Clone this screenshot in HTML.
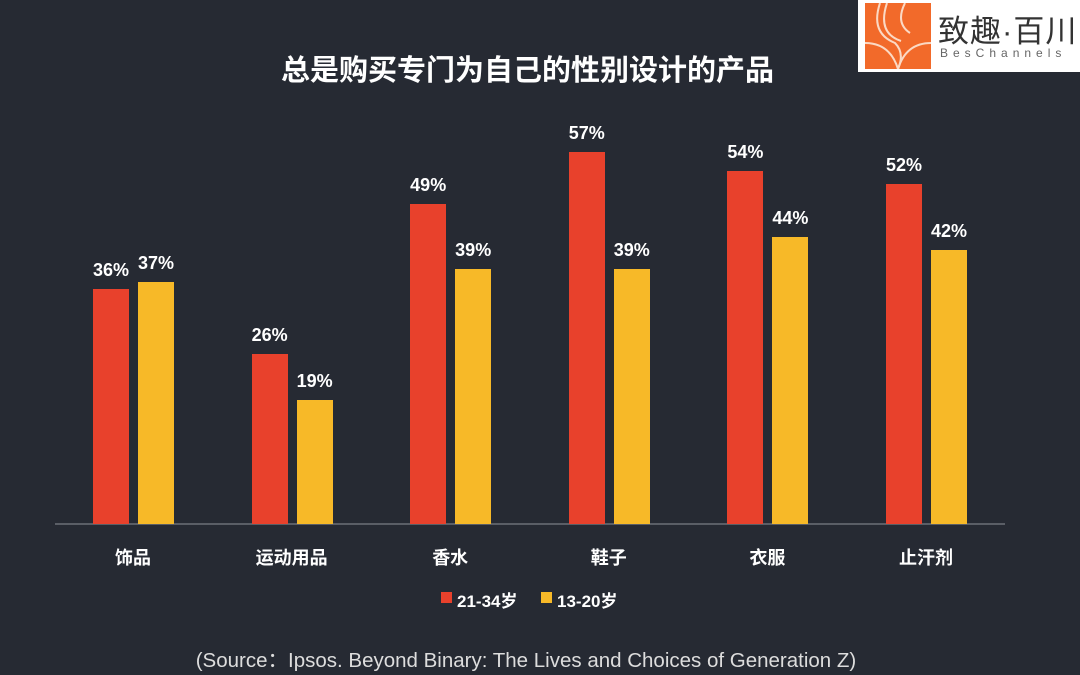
<!DOCTYPE html><html><head><meta charset="utf-8"><style>
body{margin:0;width:1080px;height:675px;background:#262a33;position:relative;overflow:hidden;font-family:"Liberation Sans","Noto Sans CJK SC",sans-serif;color:#fff}
.a{position:absolute}
.t{font-weight:bold;font-size:18px;text-align:center;width:60px;margin-left:-12px}
.l{font-weight:bold;font-size:18px;text-align:center;width:160px;top:544px}
</style></head><body>
<div class="a" style="left:0;width:1055px;top:47px;text-align:center;font-size:29px;font-weight:bold">总是购买专门为自己的性别设计的产品</div>
<div class="a" style="left:858px;top:0;width:222px;height:72px;background:#fff"></div>
<svg class="a" style="left:865px;top:3px" width="66" height="66"><rect width="66" height="66" fill="#f26a2a"/><g fill="none" stroke="#fbd9c4" stroke-width="2"><path d="M15 0 Q5 30 30 40 Q40 50 33 66"/><path d="M22 0 Q12 30 36 38"/><path d="M0 40 Q25 40 33 66"/><path d="M66 40 Q41 40 33 66"/><path d="M40 0 Q30 20 45 30"/></g></svg>
<div class="a" style="left:938px;top:6px;font-size:31px;color:#333;letter-spacing:1px">致趣·百川</div>
<div class="a" style="left:940px;top:46px;font-size:12px;color:#666;letter-spacing:5px">BesChannels</div>
<div class="a" style="left:55px;top:523px;width:950px;height:2px;background:#5a5e66"></div>
<div id="c"></div>
<div class="a" style="left:441px;top:592px;width:11px;height:11px;background:#e8412c"></div>
<div class="a" style="left:457px;top:587px;font-size:17px;font-weight:bold">21-34岁</div>
<div class="a" style="left:541px;top:592px;width:11px;height:11px;background:#f7b928"></div>
<div class="a" style="left:557px;top:587px;font-size:17px;font-weight:bold">13-20岁</div>
<div class="a" style="left:0;width:1052px;top:643px;text-align:center;font-size:20.5px;color:#ddd">(Source：Ipsos. Beyond Binary: The Lives and Choices of Generation Z)</div>
<script>
var d=[["饰品",36,37],["运动用品",26,19],["香水",49,39],["鞋子",57,39],["衣服",54,44],["止汗剂",52,42]],h="";
d.forEach(function(g,i){var x=93+i*158.6;
[[g[1],"#e8412c",x],[g[2],"#f7b928",x+45]].forEach(function(b){var ht=b[0]*6.53,top=524-ht;
h+='<div class="a" style="left:'+b[2]+'px;top:'+top+'px;width:36px;height:'+ht+'px;background:'+b[1]+'"></div>';
h+='<div class="a t" style="left:'+b[2]+'px;top:'+(top-29)+'px">'+b[0]+'%</div>';});
h+='<div class="a l" style="left:'+(x+40-80)+'px">'+g[0]+'</div>';});
document.getElementById("c").innerHTML=h;
</script>
</body></html>
